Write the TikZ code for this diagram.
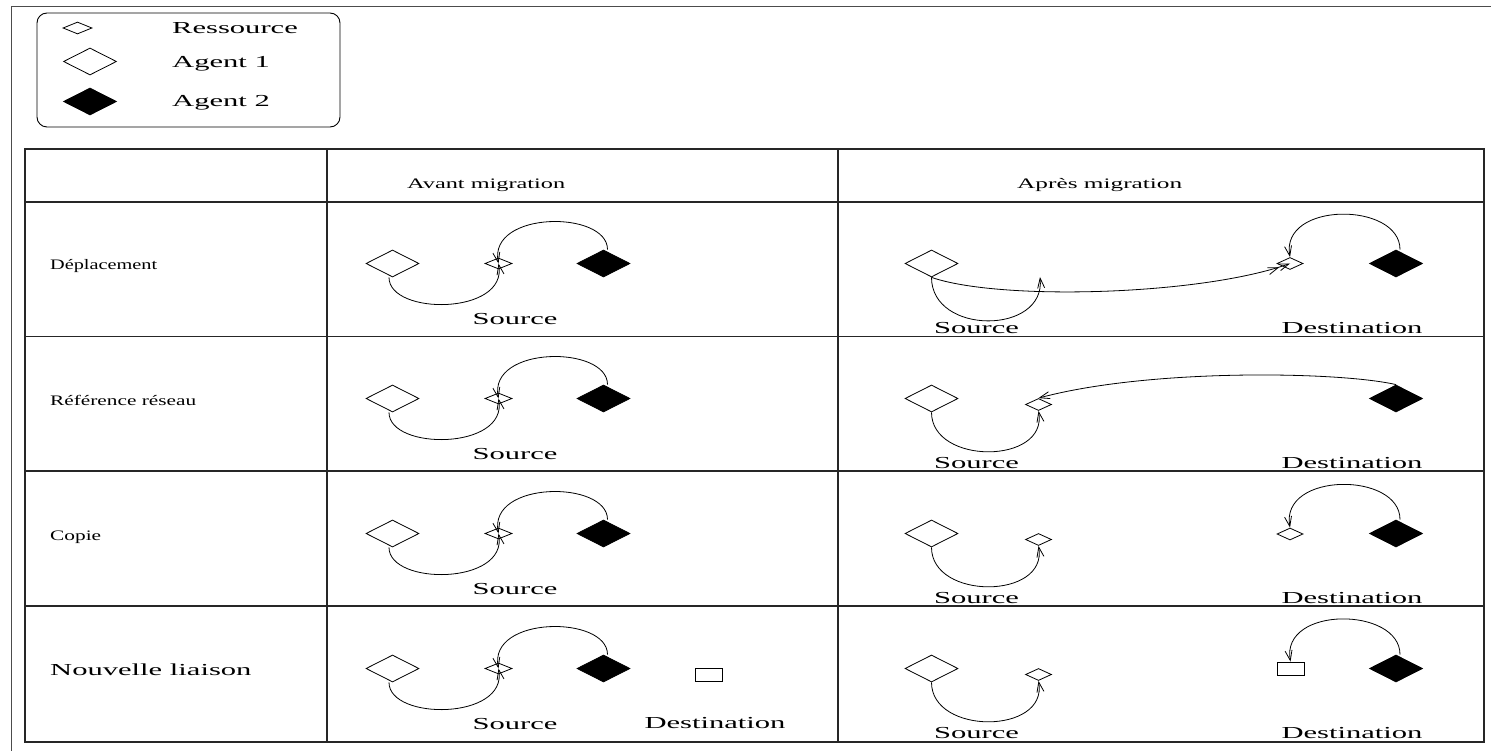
\documentclass[tikz,border=0pt]{standalone}
\usepackage{fontspec}
\setmainfont{Liberation Serif}
\usepackage{graphicx}
\usetikzlibrary{shapes.geometric,arrows.meta}
% text is set wide, as in the original drawing
\newcommand{\wt}[1]{\scalebox{1.82}[1]{#1}}
% text stretched to a given width, height kept
\newcommand{\wtw}[2]{\resizebox{#1pt}{\height}{#2}}
\begin{document}
\begin{tikzpicture}[x=1pt,y=-1pt,
  >={Straight Barb[length=10pt,width=7pt]},
  agent/.style={diamond,draw,line width=0.8pt,inner sep=0pt,aspect=2,
                minimum width=53pt,minimum height=27pt},
  agentone/.style={agent,fill=white},
  agenttwo/.style={agent,fill=black},
  res/.style={diamond,draw,line width=0.8pt,inner sep=0pt,aspect=2.2,
              minimum width=26pt,minimum height=12pt},
  slot/.style={rectangle,draw,line width=0.8pt,inner sep=0pt,
               minimum width=27pt,minimum height=13pt},
  link/.style={draw,line width=0.8pt},
  grid/.style={line width=1.2pt,black!85},
  lbl/.style={inner sep=0pt,font=\fontsize{16.8}{20}\selectfont},
  head/.style={inner sep=0pt,font=\fontsize{14.5}{18}\selectfont}]
\useasboundingbox (0,0) rectangle (1491,751);
\fill[white] (0,0) rectangle (1491,751);

% outer frame
\draw[line width=1.2pt,black!70] (1491,6.5) -- (11.5,6.5) -- (11.5,751);

% legend
\node[draw,rounded corners=10pt,line width=0.9pt,inner sep=0pt,
      minimum width=303pt,minimum height=114pt] (legend) at (188.5,70) {};
\node[res,minimum width=29pt] (lg-res) at (77.5,28) {};
\node[agentone] (lg-a1) at (90,61.5) {};
\node[agenttwo] (lg-a2) at (90,101.5) {};
\node[lbl,anchor=base west] (lg-t1) at (172,34) {\wt{Ressource}};
\node[lbl,anchor=base west] (lg-t2) at (172,68) {\wt{Agent 1}};
\node[lbl,anchor=base west] (lg-t3) at (172,107) {\wt{Agent 2}};

% table
\draw[grid] (25,149) rectangle (1484,742);
\foreach \yy in {202,336.5,471,606} \draw[grid] (25,\yy) -- (1484,\yy);
\draw[grid] (327,149) -- (327,742);
\draw[grid] (838,149) -- (838,742);

\node[head,anchor=base west] (h-avant) at (407,188.5) {\wtw{158}{Avant migration}};
\node[head,anchor=base west] (h-apres) at (1017,188.5) {\wtw{165}{Après migration}};

\node[head,anchor=base west] (row1) at (50,270) {\wtw{107}{Déplacement}};
\node[head,anchor=base west] (row2) at (50,405) {\wtw{146}{Référence réseau}};
\node[head,anchor=base west] (row3) at (50,540) {\wtw{51}{Copie}};
\node[lbl,anchor=base west] (row4) at (50,675) {\wt{Nouvelle liaison}};

% before migration: the same link in every row
\foreach \Y [count=\i] in {263.5,398.5,533.5,668.5} {
  \node[agentone] (av-a1-\i) at (392.5,\Y) {};
  \node[res,minimum width=27pt,minimum height=11pt] (av-r-\i) at (498.5,\Y) {};
  \node[agenttwo] (av-a2-\i) at (603.5,\Y) {};
  \draw[link,->] ([xshift=-3.5pt]av-a1-\i.south)
     .. controls +(0,38.3) and +(9.5,51.8) .. (av-r-\i.center);
  \draw[link,->] ([xshift=4pt]av-a2-\i.north)
     .. controls +(0,-39.5) and +(-10.5,-53) .. (av-r-\i.center);
  \node[lbl,anchor=base] (av-src-\i) at (515,{\Y+60.5}) {\wt{Source}};
  \node[lbl,anchor=base] (ap-src-\i) at (976.5,{\Y+69.5}) {\wt{Source}};
}
\node[slot] (av-slot) at (708.5,674.5) {};
\node[lbl,anchor=base] (av-dst) at (715,728.5) {\wt{Destination}};

% after migration
\foreach \Y [count=\i] in {263.5,398.5,533.5,668.5} {
  \node[agentone] (p\i-a1) at (931.5,\Y) {};
  \node[agenttwo] (p\i-a2) at (1396,\Y) {};
  \node[lbl,anchor=base] (ap-dst-\i) at (1352,{\Y+69.5}) {\wt{Destination}};
}

% row 1: the resource has moved
\node[res] (p1-r) at (1290,263.5) {};
\coordinate (p1-old) at (1040,277);
\draw[link,->] (p1-a1.south) .. controls +(0,58) and +(6,58) .. (p1-old);
\draw[link,->>] (p1-a1.south) .. controls +(68,23.5) and +(-90,32) .. (p1-r.center);
\draw[link,->] ([xshift=4pt]p1-a2.north) .. controls +(0,-48) and +(-10,-56) .. (p1-r.north);

% row 2: network reference
\node[res] (p2-r) at (1038.5,404.5) {};
\draw[link,->] (p2-a1.south) .. controls +(0,52.8) and +(9.5,53.8) .. (p2-r.south);
\draw[link,->] (p2-a2.north) .. controls +(-56,-13) and +(111.5,-30) .. (p2-r.north);

% row 3: copy
\node[res] (p3-r) at (1038.5,539.5) {};
\node[res] (p3-d) at (1290,534) {};
\draw[link,->] (p3-a1.south) .. controls +(0,52.8) and +(9.5,53.8) .. (p3-r.south);
\draw[link,->] ([xshift=4pt]p3-a2.north) .. controls +(0,-48) and +(-10,-56) .. (p3-d.north);

% row 4: new binding
\node[res] (p4-r) at (1038.5,674.5) {};
\node[slot] (p4-d) at (1290.5,668.5) {};
\draw[link,->] (p4-a1.south) .. controls +(0,52.8) and +(9.5,53.8) .. (p4-r.south);
\draw[link,->] ([xshift=4pt]p4-a2.north) .. controls +(0,-48) and +(-10,-56) .. (p4-d.north);
\end{tikzpicture}
\end{document}
